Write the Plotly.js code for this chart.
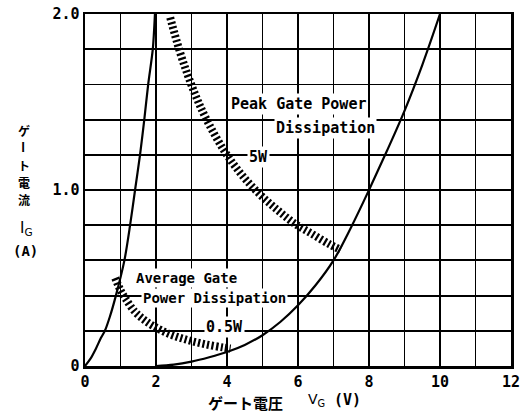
<!DOCTYPE html>
<html>
<head>
<meta charset="utf-8">
<script src="https://cdn.plot.ly/plotly-3.0.1.min.js"></script>
<style>html,body{margin:0;padding:0;background:#fff;}#chart{width:527px;height:412px;}</style>
</head>
<body>
<div id="chart"></div>
<script>
// ---- data ----
const vLeft  = [0, 0.15, 0.31, 0.45, 0.56, 0.70, 0.87, 1.11, 1.27, 1.41, 1.55, 1.67, 1.78, 1.91, 1.97];
const iLeft  = [0, 0.04, 0.10, 0.16, 0.20, 0.28, 0.40, 0.60, 0.80, 1.00, 1.20, 1.40, 1.60, 1.80, 2.00];

const vRight = [2.0, 2.5, 3.0, 3.5, 4.0, 4.5, 5.0, 5.5, 6.0, 6.5, 7.0, 7.5, 8.0, 8.5, 9.0, 9.5, 10.0];
const iRight = [0, 0.008, 0.025, 0.05, 0.08, 0.12, 0.175, 0.25, 0.345, 0.46, 0.60, 0.79, 1.00, 1.22, 1.45, 1.71, 2.00];

const vPeak  = [2.5, 2.75, 3.0, 3.25, 3.5, 4.0, 4.5, 5.0, 5.5, 6.0, 6.5, 7.0, 7.3];
const iPeak  = [2.0, 1.82, 1.67, 1.54, 1.43, 1.25, 1.11, 1.0, 0.91, 0.83, 0.77, 0.71, 0.68];

const vAvg   = [0.95, 1.1, 1.25, 1.5, 1.75, 2.0, 2.5, 3.0, 3.5, 4.0, 4.2];
const iAvg   = [0.52, 0.45, 0.40, 0.33, 0.285, 0.25, 0.20, 0.167, 0.143, 0.125, 0.119];

const xTickVals = [0,1,2,3,4,5,6,7,8,9,10,11,12];
const xTickText = ["0","","2","","4","","6","","8","","10","","12"];
const yTickVals = [0,0.2,0.4,0.6,0.8,1.0,1.2,1.4,1.6,1.8,2.0];
const yTickText = ["0","","","","","1.0","","","","","2.0"];

const yTitleChars = ["ゲ","ー","ト","電","流"];
const xTitleMain = "ゲート電圧";
const xTitleSym = "V<sub>G</sub>";
const xTitleUnit = "(V)";
const labelPeak1 = "Peak Gate Power";
const labelPeak2 = "Dissipation";
const labelPeakW = "5W";
const labelAvg1 = "Average Gate";
const labelAvg2 = "Power Dissipation";
const labelAvgW = "0.5W";

// ---- chart ----
const MONO = "DejaVu Sans Mono, monospace";
const SANS = "DejaVu Sans, sans-serif";
const JP = "Noto Sans CJK JP, sans-serif";

const curve = {color:"#000", width:2.2, shape:"spline", smoothing:1};
const hatch = {color:"#000", width:8, dash:"2.2px,2.4px", shape:"spline"};

const traces = [
  {x:vLeft, y:iLeft, mode:"lines", line:{color:"#000", width:2.2, shape:"spline", smoothing:0.8}, hoverinfo:"skip"},
  {x:vRight, y:iRight, mode:"lines", line:curve, hoverinfo:"skip"},
  {x:vPeak, y:iPeak, mode:"lines", line:hatch, xaxis:"x2", yaxis:"y2", hoverinfo:"skip"},
  {x:vAvg, y:iAvg, mode:"lines", line:hatch, xaxis:"x2", yaxis:"y2", hoverinfo:"skip"}
];

const tickFont = {family:MONO, size:15, color:"#000", weight:"bold"};

function lab(text, x, y, size){
  return {text:text, x:x, y:y, xref:"x", yref:"y", showarrow:false,
    xanchor:"center", yanchor:"middle",
    font:{family:MONO, size:size, color:"#000", weight:"bold"},
    bgcolor:"#fff", borderpad:1};
}

const ann = [
  lab(labelPeak1, 6.0, 1.49, 15),
  lab(labelPeak2, 6.78, 1.35, 15),
  lab(labelPeakW, 4.9, 1.19, 15),
  lab(labelAvg1, 2.87, 0.50, 14),
  lab(labelAvg2, 3.66, 0.386, 14),
  lab(labelAvgW, 3.94, 0.22, 15)
];

function pap(text, px, py, font, angle){
  return {text:text, xref:"paper", yref:"paper", x:(px-85)/426, y:(366-py)/352,
    xanchor:"center", yanchor:"middle", showarrow:false, textangle:angle||0, font:font};
}

const yCharPos = [130, 147, 165, 182, 200];
const jpFont = {family:JP, size:12, color:"#000", weight:"bold"};
yTitleChars.forEach((c, k) => {
  ann.push(pap(c, 24, yCharPos[k], jpFont, c==="ー" ? 90 : 0));
});
ann.push(pap("I<sub>G</sub>", 26, 228, {family:SANS, size:15, color:"#000"}));
ann.push(pap("(A)", 25, 251, {family:MONO, size:14, color:"#000", weight:"bold"}));
ann.push(pap(xTitleMain, 245, 402, {family:JP, size:15, color:"#000", weight:"bold"}));
ann.push(pap(xTitleSym, 316, 400, {family:SANS, size:14, color:"#000"}));
ann.push(pap(xTitleUnit, 347, 400, {family:MONO, size:15, color:"#000", weight:"bold"}));

const layout = {
  width:527, height:412,
  margin:{l:85, r:16, t:14, b:46},
  paper_bgcolor:"#fff", plot_bgcolor:"#fff",
  showlegend:false,
  xaxis:{range:[0,12], tickmode:"array", tickvals:xTickVals, ticktext:xTickText,
    showgrid:true, gridcolor:"#000", gridwidth:1.8, zeroline:false,
    showline:true, mirror:true, linecolor:"#000", linewidth:2.5,
    ticks:"", tickfont:tickFont, fixedrange:true},
  yaxis:{range:[0,2.0], tickmode:"array", tickvals:yTickVals, ticktext:yTickText,
    showgrid:true, gridcolor:"#000", gridwidth:1.8, zeroline:false,
    showline:true, mirror:true, linecolor:"#000", linewidth:2.5,
    ticks:"", tickfont:tickFont, fixedrange:true},
  xaxis2:{overlaying:"x", range:[0.1, 12.1], visible:false, fixedrange:true},
  yaxis2:{overlaying:"y", range:[0.02, 2.02], visible:false, fixedrange:true},
  annotations:ann
};

Plotly.newPlot("chart", traces, layout, {staticPlot:true, displayModeBar:false});
</script>
</body>
</html>
